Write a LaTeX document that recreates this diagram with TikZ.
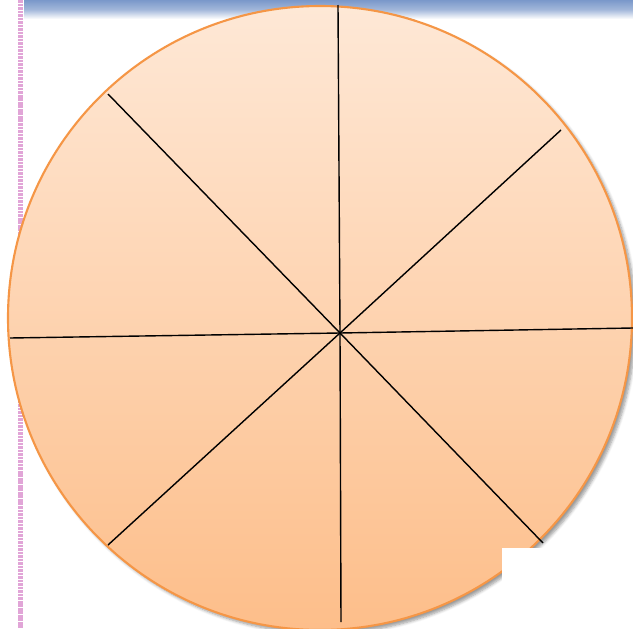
\documentclass[tikz,border=0pt]{standalone}
\usepackage{tikz}
\usetikzlibrary{shadows.blur}
\definecolor{peachtop}{RGB}{254,232,214}
\definecolor{peachbot}{RGB}{253,190,138}
\definecolor{rimorange}{RGB}{245,150,70}
\definecolor{barblue}{RGB}{122,152,202}
\definecolor{marginpink}{RGB}{225,165,215}

\begin{document}
\begin{tikzpicture}[x=0.02cm,y=-0.02cm]
    \useasboundingbox (0,0) rectangle (633,629);
    % top bar and margin line
    \shade[top color=barblue,bottom color=white,middle color=barblue!70] (24,0) rectangle (633,19);
    \draw[marginpink,line width=5*0.02cm,dash pattern=on 1.5pt off 0.5pt] (20,0) -- (20,629);
    % the wheel
    \coordinate (hub) at (340,333);
    \shade[top color=peachtop,bottom color=peachbot,draw=rimorange,line width=1.2pt,
      blur shadow={shadow xshift=2pt,shadow yshift=-2pt,shadow blur steps=6,shadow opacity=40}]
      (320,318) circle [radius=312];
    \foreach \a/\b [count=\i] in {338/5, 561/130, 633/328, 543/543, 341/622, 108/545, 10/338, 108/94}
      \coordinate (s\i) at (\a,\b);
    \foreach \i/\j in {1/5, 2/6, 3/7, 4/8}
      \draw[line width=0.8pt] (s\i) -- (hub) -- (s\j);
    % cover patch
    \fill[white] (502,548) rectangle (633,629);
\end{tikzpicture}
\end{document}
